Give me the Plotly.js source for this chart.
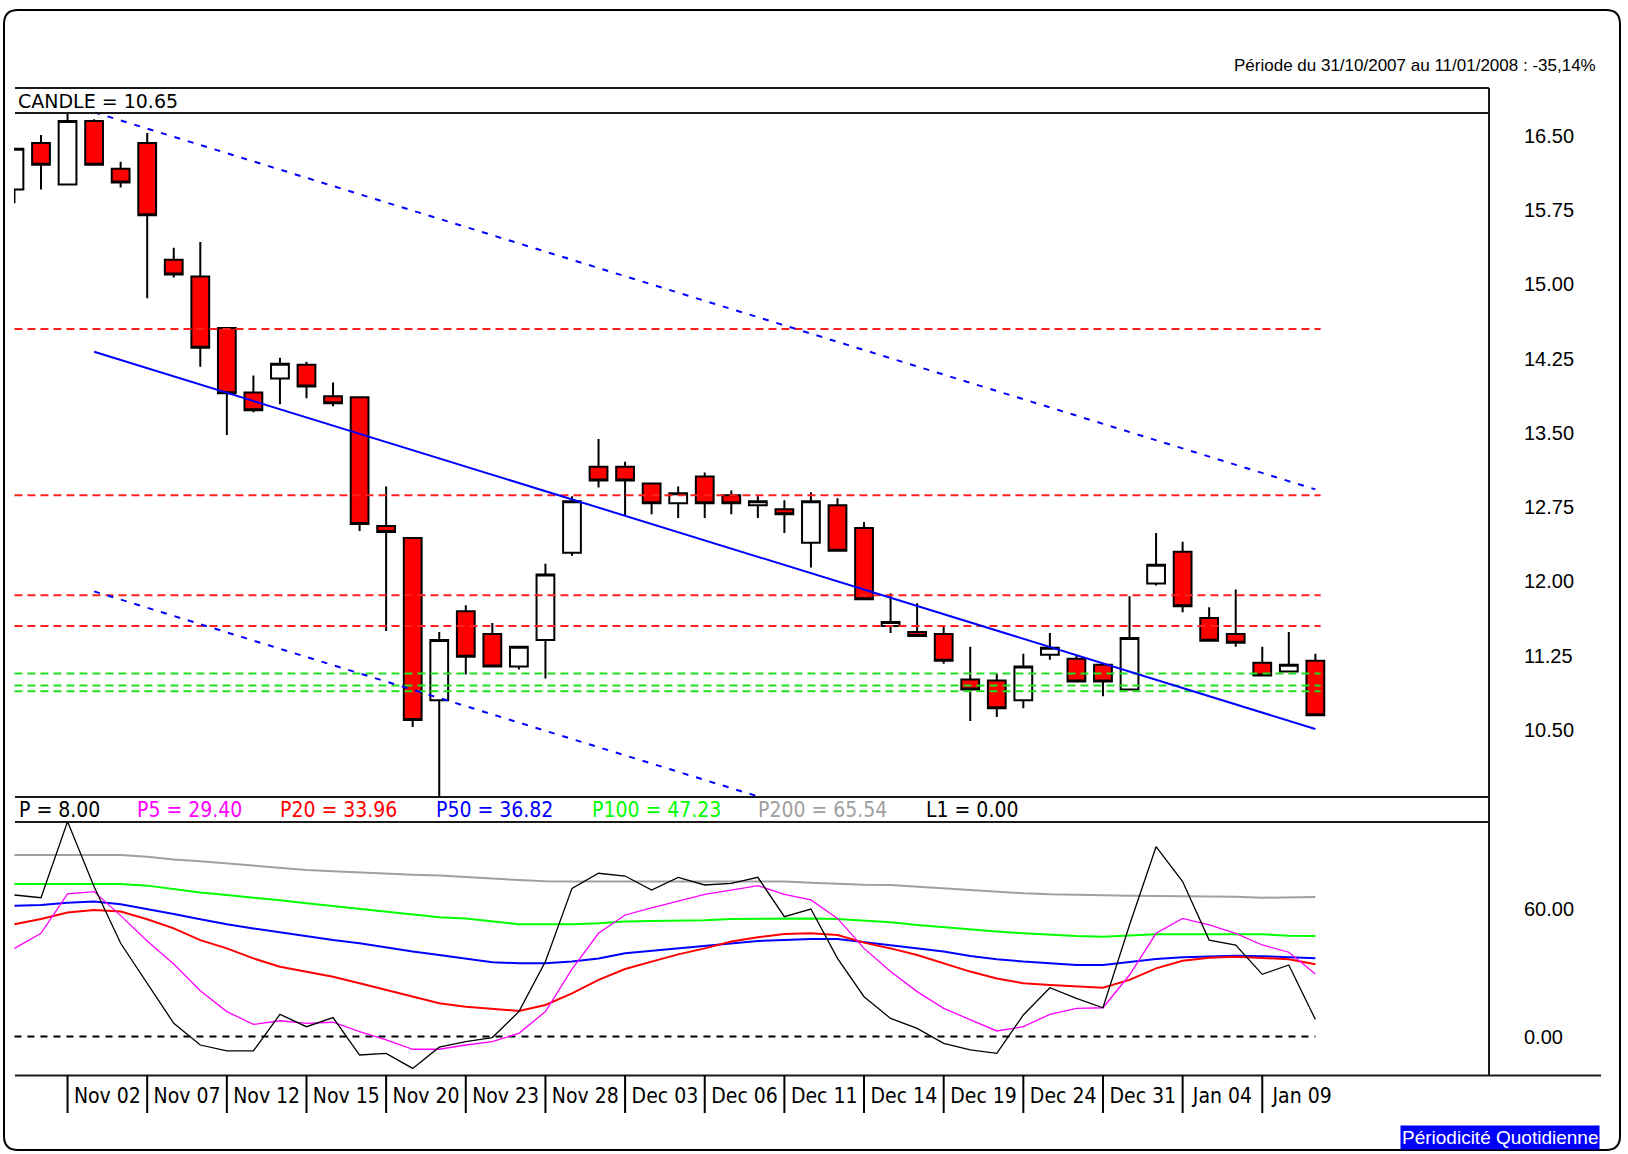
<!DOCTYPE html>
<html><head><meta charset="utf-8">
<script src="https://cdn.plot.ly/plotly-3.0.1.min.js"></script>
<style>html,body{margin:0;padding:0;background:#fff}#chart{width:1628px;height:1154px}</style>
</head><body><div id="chart"></div>
<script>
// ---- DATA ----
const tradingDays = ['2007-10-31','2007-11-01','2007-11-02','2007-11-05','2007-11-06','2007-11-07','2007-11-08','2007-11-09','2007-11-12','2007-11-13','2007-11-14','2007-11-15','2007-11-16','2007-11-19','2007-11-20','2007-11-21','2007-11-22','2007-11-23','2007-11-26','2007-11-27','2007-11-28','2007-11-29','2007-11-30','2007-12-03','2007-12-04','2007-12-05','2007-12-06','2007-12-07','2007-12-10','2007-12-11','2007-12-12','2007-12-13','2007-12-14','2007-12-17','2007-12-18','2007-12-19','2007-12-20','2007-12-21','2007-12-24','2007-12-27','2007-12-28','2007-12-31','2008-01-02','2008-01-03','2008-01-04','2008-01-07','2008-01-08','2008-01-09','2008-01-10','2008-01-11'];
const openP  = [15.96,16.43,16.01,16.65,16.17,16.43,15.25,15.08,14.56,13.91,14.05,14.19,13.87,13.86,12.56,12.44,10.80,11.70,11.47,11.14,11.41,12.29,13.16,13.16,12.99,12.79,13.06,12.87,12.77,12.73,12.39,12.77,12.54,11.55,11.49,11.47,11.01,11.00,10.80,11.26,11.22,11.16,10.91,11.98,12.30,11.63,11.47,11.18,11.09,11.20];
const highP  = [16.37,16.51,16.76,16.67,16.24,16.53,15.37,15.43,14.56,14.08,14.26,14.22,14.01,13.86,12.96,12.44,11.49,11.76,11.58,11.34,12.18,12.86,13.44,13.21,12.99,12.96,13.10,12.92,12.86,12.82,12.90,12.84,12.60,11.88,11.78,11.54,11.34,11.07,11.27,11.48,11.26,11.16,11.85,12.49,12.40,11.74,11.92,11.34,11.49,11.27];
const lowP   = [15.82,15.96,16.01,16.21,15.98,14.86,15.07,14.17,13.48,13.71,13.79,13.85,13.77,12.51,11.50,10.53,9.70,11.06,11.14,11.11,11.02,12.26,12.95,12.67,12.68,12.64,12.64,12.68,12.64,12.49,12.14,12.31,11.82,11.48,11.45,11.17,10.59,10.63,10.72,11.21,10.99,10.84,10.91,11.96,11.69,11.40,11.34,11.05,11.09,10.65];
const closeP = [16.37,16.21,16.65,16.21,16.03,15.70,15.10,14.36,13.90,13.73,14.20,13.97,13.80,12.58,12.50,10.60,11.41,11.24,11.14,11.34,12.07,12.81,13.02,13.02,12.79,12.89,12.79,12.79,12.81,12.68,12.81,12.31,11.82,11.59,11.45,11.20,10.91,10.72,11.14,11.33,10.99,10.99,11.43,12.17,11.75,11.40,11.38,11.05,11.16,10.65];

const resistanceLevels = [14.55, 12.87, 11.86, 11.55];
const supportLevels = [11.07, 10.95, 10.89];
const levelSpan = [0, 49.2];

const channelIdx = [3, 49];
const channelMid = [14.32, 10.51];
const channelUpper = [16.74, 12.93];
const channelLower = [11.90, 8.09];

const oscP    = [66.5,65.2,101,70.4,43.8,25.0,6.2,-4.0,-6.8,-6.8,10.4,4.6,8.9,-8.7,-7.9,-15.0,-5.0,-2.4,-0.5,11.7,35.2,69.6,76.7,75.4,68.8,74.8,71.2,72.0,74.8,56.3,59.9,36.7,18.7,8.5,3.8,-3.2,-6.3,-7.9,10.1,22.9,17.9,13.5,52.4,89.2,72.8,45.3,43.0,29.2,33.6,8.0];
const oscP5   = [41.4,48.5,67.0,68.1,56.8,44.9,34.1,21.5,11.7,5.7,7.4,6.2,6.7,2.3,-1.6,-6.0,-6.0,-4.0,-2.4,1.5,11.7,31.7,48.5,57.1,60.5,63.7,66.8,68.8,70.9,66.8,64.2,55.5,41.4,30.5,21.1,13.2,7.8,2.6,4.6,10.4,13.2,13.5,28.9,48.5,55.5,52.4,48.5,43.0,39.6,29.4];
const oscP20  = [52.7,55.2,58.3,59.4,58.7,55.1,50.8,45.3,41.4,36.7,32.8,30.5,28.1,25.0,21.8,18.7,15.6,14.0,12.9,12.0,14.8,20.3,26.6,31.7,35.2,38.6,41.4,44.6,46.6,48.2,48.5,47.7,44.1,41.4,38.3,34.4,30.5,27.3,25.0,24.2,23.4,22.9,26.6,32.0,35.6,37.0,37.5,37.0,36.3,33.96];
const oscP50  = [61.5,61.8,62.9,63.4,62.1,59.9,57.6,55.1,52.7,50.8,48.9,46.9,45.3,43.8,41.7,39.9,38.3,36.7,34.9,34.4,34.4,35.2,36.7,39.1,40.2,41.4,42.5,43.8,44.9,45.3,45.8,45.8,44.3,43.0,41.4,39.9,37.8,36.3,35.2,34.4,33.6,33.6,34.9,36.4,37.2,37.7,38.0,37.7,37.1,36.82];
const oscP100 = [71.7,71.7,71.7,71.7,71.7,70.9,69.3,67.7,66.5,65.4,64.0,62.6,61.3,59.9,58.7,57.4,56.0,55.5,54.0,52.7,52.7,52.7,53.2,54.0,54.3,54.3,54.6,55.2,55.4,55.5,55.5,55.2,54.6,53.7,52.4,51.3,50.2,49.3,48.5,47.7,47.2,46.9,47.4,48.0,48.0,48.0,48.0,48.0,47.4,47.23];
const oscP200 = [85.3,85.3,85.3,85.3,85.3,84.5,83.2,82.3,81.3,80.5,79.4,78.3,77.7,77.1,76.4,76.0,75.6,75.1,74.3,73.5,72.9,72.8,72.8,72.8,72.8,72.8,72.8,72.8,72.8,72.8,72.3,71.8,71.3,71.2,70.4,69.6,68.8,68.1,67.3,66.8,66.5,66.5,66.2,66.0,66.0,66.0,65.7,65.2,65.2,65.54];
const oscL1 = 0;

const tickIdx = [2,5,8,11,14,17,20,23,26,29,32,35,38,41,44,47];
const tickLabels = ['Nov 02','Nov 07','Nov 12','Nov 15','Nov 20','Nov 23','Nov 28','Dec 03','Dec 06','Dec 11','Dec 14','Dec 19','Dec 24','Dec 31','Jan 04','Jan 09'];
const priceTicks = [16.50,15.75,15.00,14.25,13.50,12.75,12.00,11.25,10.50];
const oscTicks = [0, 60];

const legendItems = [
  {text:'P = 8.00', color:'#000000', left:17},
  {text:'P5 = 29.40', color:'#ff00ff', left:135},
  {text:'P20 = 33.96', color:'#ff0000', left:278},
  {text:'P50 = 36.82', color:'#0000ff', left:434},
  {text:'P100 = 47.23', color:'#00ff00', left:590},
  {text:'P200 = 65.54', color:'#a0a0a0', left:756},
  {text:'L1 = 0.00', color:'#000000', left:924}
];

// ---- LAYOUT HELPERS ----
const W = 1628, H = 1154;
const X = p => p / W;
const Y = p => 1 - p / H;
const idx = openP.map((_, i) => i);
const xRange = [-0.017, 55.54];
const xDom = [X(14), X(1489)];
const condensed = 'DejaVu Sans Condensed, DejaVu Sans, sans-serif';
const arial = 'Liberation Sans, Arial, sans-serif';

const traces = [];
traces.push({
  type:'candlestick', x: idx, open: openP, high: highP, low: lowP, close: closeP,
  text: tradingDays, xaxis:'x', yaxis:'y',
  increasing:{line:{color:'#000', width:2}, fillcolor:'#ffffff'},
  decreasing:{line:{color:'#000', width:2}, fillcolor:'#ff0000'},
  whiskerwidth:0, hoverinfo:'text+y'
});
resistanceLevels.forEach(v => traces.push({type:'scatter', mode:'lines', x: levelSpan, y:[v, v], xaxis:'x', yaxis:'y',
  line:{color:'#ff2020', width:2, dash:'8px,5px'}, hoverinfo:'skip'}));
supportLevels.forEach(v => traces.push({type:'scatter', mode:'lines', x: levelSpan, y:[v, v], xaxis:'x', yaxis:'y',
  line:{color:'#20e020', width:2, dash:'8px,5px'}, hoverinfo:'skip'}));
traces.push({type:'scatter', mode:'lines', x: channelIdx, y: channelMid, xaxis:'x', yaxis:'y', line:{color:'#0000ff', width:2}, hoverinfo:'skip'});
traces.push({type:'scatter', mode:'lines', x: channelIdx, y: channelUpper, xaxis:'x', yaxis:'y', line:{color:'#0000ff', width:2, dash:'6px,8px'}, hoverinfo:'skip'});
traces.push({type:'scatter', mode:'lines', x: channelIdx, y: channelLower, xaxis:'x', yaxis:'y', line:{color:'#0000ff', width:2, dash:'6px,8px'}, hoverinfo:'skip'});

// lower panel
traces.push({type:'scatter', mode:'lines', x:[0, 49], y:[oscL1, oscL1], xaxis:'x2', yaxis:'y2', line:{color:'#000', width:2, dash:'7px,6px'}, hoverinfo:'skip'});
const osc = [
  [oscP200, '#a0a0a0', 2],
  [oscP100, '#00ff00', 2],
  [oscP50, '#0000ff', 2],
  [oscP20, '#ff0000', 2],
  [oscP5, '#ff00ff', 1.3],
  [oscP, '#000000', 1.3]
];
osc.forEach(([arr, c, w]) => traces.push({type:'scatter', mode:'lines', x: idx, y: arr, xaxis:'x2', yaxis:'y2', line:{color:c, width:w}, hoverinfo:'y'}));

// ---- FRAME SHAPES ----
const lineCol = '#1a1a1a';
const shapes = [];
const hline = (y, x0, x1) => shapes.push({type:'line', xref:'paper', yref:'paper', x0:X(x0), x1:X(x1), y0:Y(y), y1:Y(y), line:{color:lineCol, width:2}});
hline(88, 15, 1489);
hline(113, 15, 1489);
hline(797, 15, 1489);
hline(822, 15, 1489);
hline(1075.5, 15, 1601);
shapes.push({type:'line', xref:'paper', yref:'paper', x0:X(1489), x1:X(1489), y0:Y(88), y1:Y(1075.5), line:{color:lineCol, width:2}});
tickIdx.forEach(k => shapes.push({type:'line', xref:'x2', yref:'paper', x0:k, x1:k, y0:Y(1075.5), y1:Y(1113), line:{color:'#000', width:2}}));
// outer rounded border
(function(){
  const x0=4, y0=10, x1=1620, y1=1150, r=14;
  const p = `M ${X(x0+r)},${Y(y0)} L ${X(x1-r)},${Y(y0)} Q ${X(x1)},${Y(y0)} ${X(x1)},${Y(y0+r)} L ${X(x1)},${Y(y1-r)} Q ${X(x1)},${Y(y1)} ${X(x1-r)},${Y(y1)} L ${X(x0+r)},${Y(y1)} Q ${X(x0)},${Y(y1)} ${X(x0)},${Y(y1-r)} L ${X(x0)},${Y(y0+r)} Q ${X(x0)},${Y(y0)} ${X(x0+r)},${Y(y0)} Z`;
  shapes.push({type:'path', xref:'paper', yref:'paper', path:p, line:{color:'#000', width:2}});
})();

// ---- TEXT ----
const annotations = [];
annotations.push({xref:'paper', yref:'paper', x:X(1598), y:Y(66), xanchor:'right', yanchor:'middle', showarrow:false,
  text:'Période du 31/10/2007 au 11/01/2008 : -35,14%', font:{family:arial, size:17, color:'#000'}});
annotations.push({xref:'paper', yref:'paper', x:X(16), y:Y(100.5), xanchor:'left', yanchor:'middle', showarrow:false,
  text:'CANDLE = ' + closeP[closeP.length-1].toFixed(2), font:{family:'DejaVu Sans, sans-serif', size:19, color:'#000'}});
legendItems.forEach(it => annotations.push({xref:'paper', yref:'paper', x:X(it.left), y:Y(809.5), xanchor:'left', yanchor:'middle', showarrow:false,
  text: it.text, font:{family:condensed, size:21, color:it.color}}));
annotations.push({xref:'paper', yref:'paper', x:X(1600), y:Y(1137), xanchor:'right', yanchor:'middle', showarrow:false,
  text:'Périodicité Quotidienne', bgcolor:'#0000ff', borderpad:1, font:{family:arial, size:19, color:'#fff'}});

const layout = {
  width: W, height: H, margin:{l:0, r:0, t:0, b:0}, paper_bgcolor:'#fff', plot_bgcolor:'#fff', showlegend:false,
  boxgap:0.33, boxgroupgap:0, hovermode:'closest',
  xaxis:{domain:xDom, range:xRange, anchor:'y', showticklabels:false, showgrid:false, zeroline:false, showline:false, ticks:'', rangeslider:{visible:false}, fixedrange:true},
  yaxis:{domain:[Y(797), Y(113)], range:[9.823, 16.732], anchor:'x', side:'right', tickmode:'array', tickvals:priceTicks,
    ticktext:priceTicks.map(v => v.toFixed(2)), ticks:'outside', ticklen:30, tickcolor:'rgba(0,0,0,0)', showgrid:false, zeroline:false, showline:false,
    tickfont:{family:arial, size:20, color:'#000'}, fixedrange:true},
  xaxis2:{domain:xDom, range:xRange, anchor:'y2', tickmode:'array', tickvals:tickIdx.map(k => k + 1.5), ticktext:tickLabels,
    ticks:'outside', ticklen:1, tickcolor:'rgba(0,0,0,0)', showgrid:false, zeroline:false, showline:false,
    tickfont:{family:condensed, size:21, color:'#000'}, fixedrange:true},
  yaxis2:{domain:[Y(1075.5), Y(822)], range:[-18.33, 100.8], anchor:'x2', side:'right', tickmode:'array', tickvals:oscTicks,
    ticktext:oscTicks.map(v => v.toFixed(2)), ticks:'outside', ticklen:30, tickcolor:'rgba(0,0,0,0)', showgrid:false, zeroline:false, showline:false,
    tickfont:{family:arial, size:20, color:'#000'}, fixedrange:true},
  shapes, annotations
};
Plotly.newPlot('chart', traces, layout, {displayModeBar:false, staticPlot:true});
</script></body></html>
